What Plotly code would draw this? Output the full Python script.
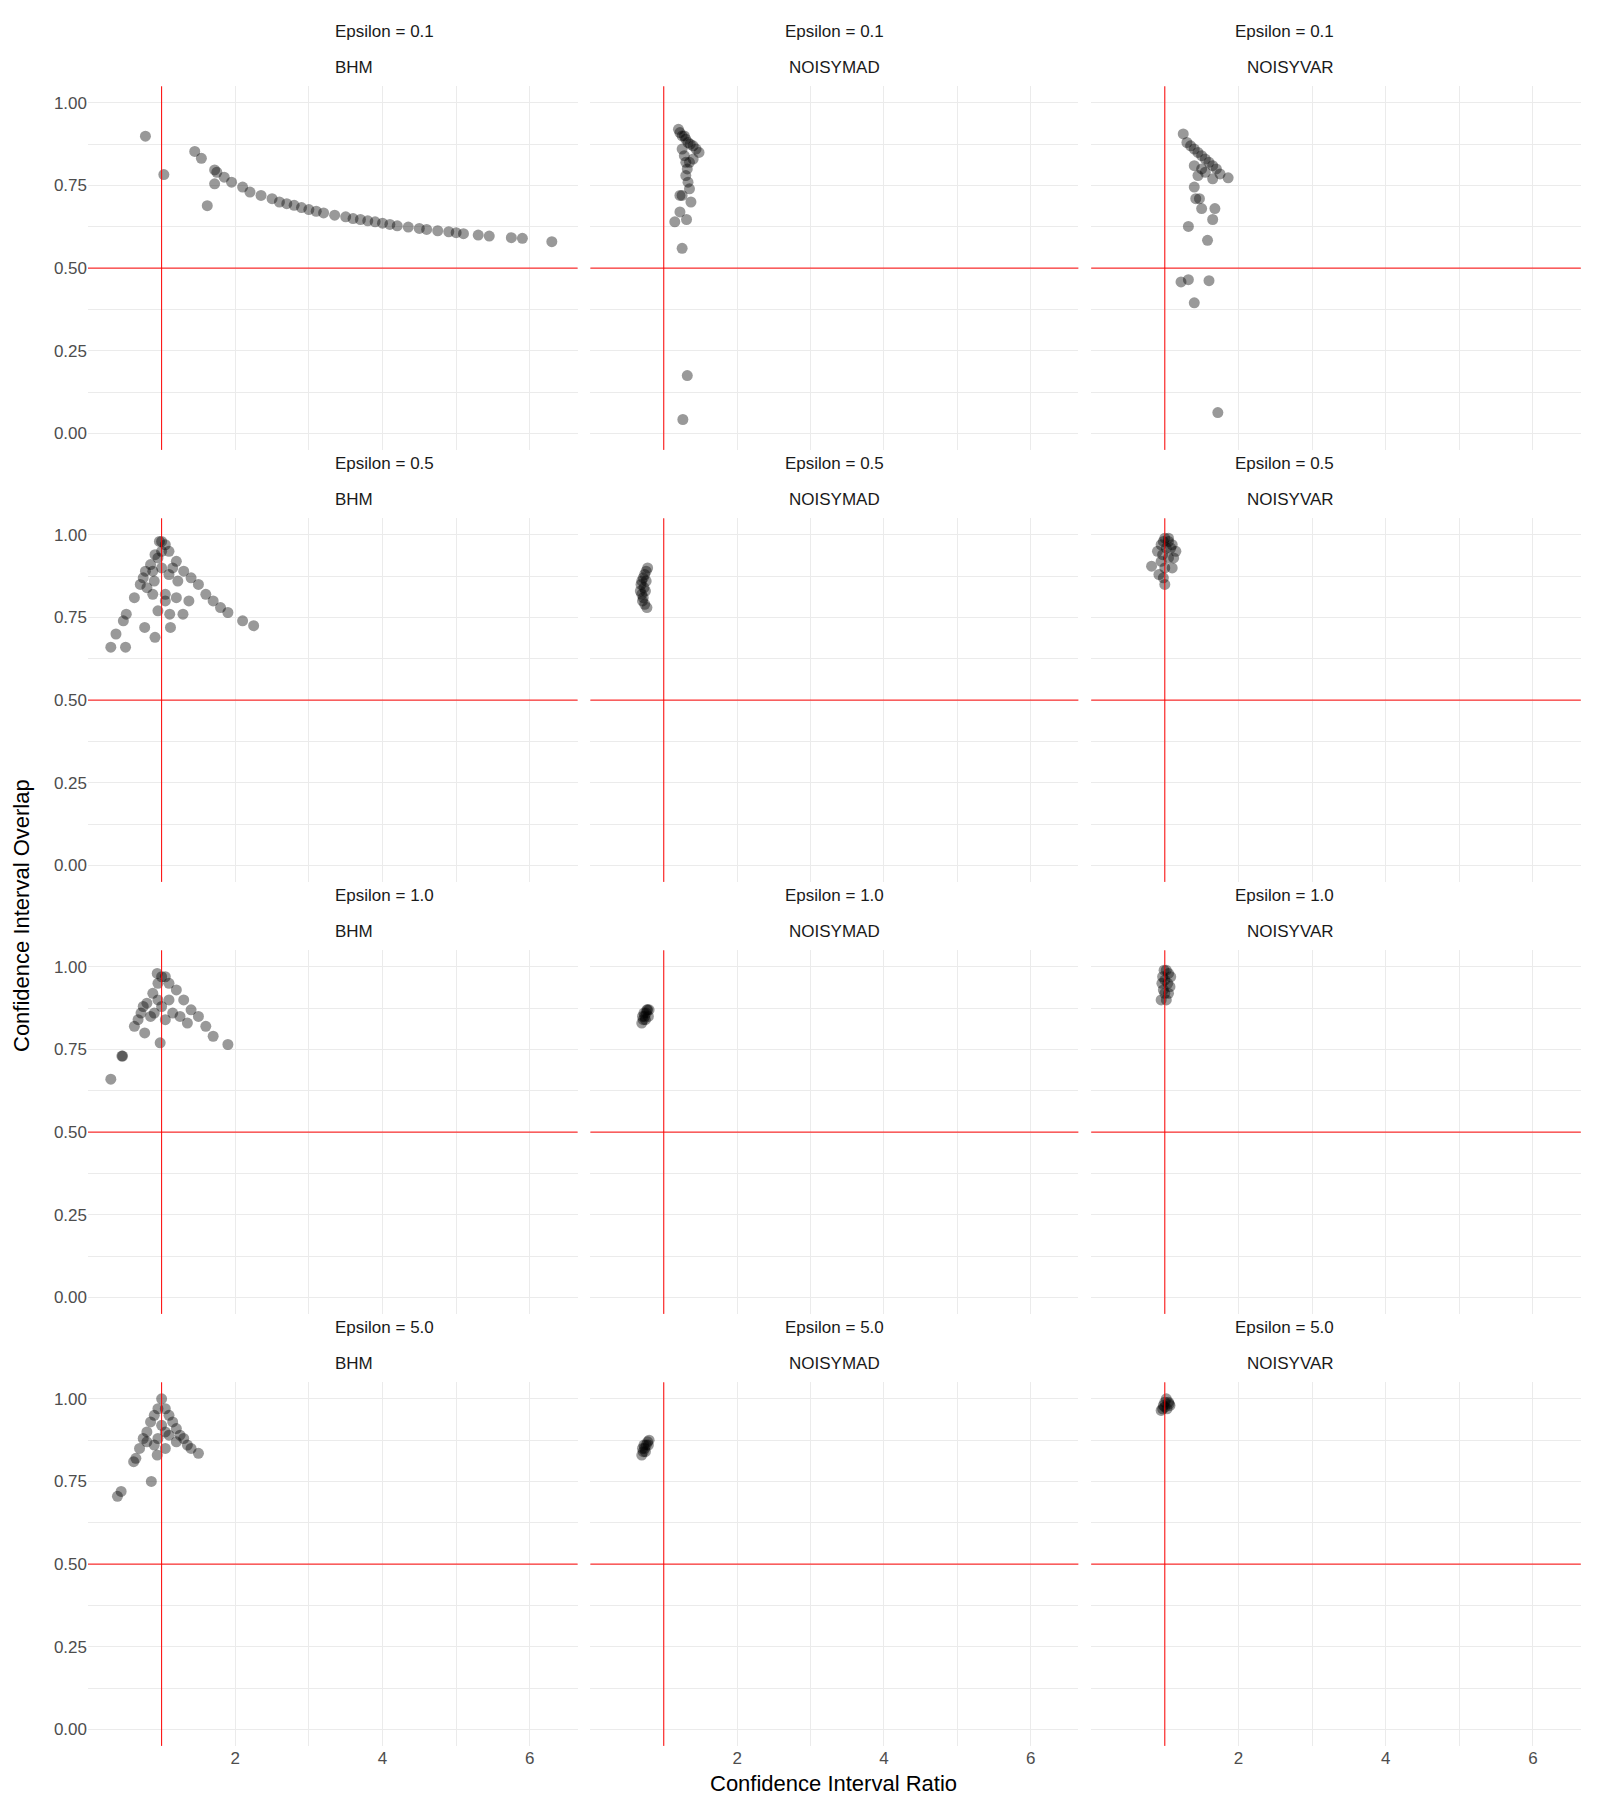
import plotly.graph_objects as go

epsilons = ["0.1", "0.5", "1.0", "5.0"]
methods = ["BHM", "NOISYMAD", "NOISYVAR"]

# (x, y) pairs per panel
bhm_01 = [(0.78,0.899),(1.03,0.783),(1.45,0.853),(1.54,0.832),(1.62,0.689),(1.72,0.755),(1.72,0.797),
          (1.75,0.79),(1.85,0.775),(1.95,0.76),(2.1,0.745),(2.2,0.73),(2.35,0.72),(2.5,0.71),(2.6,0.7),
          (2.7,0.695),(2.8,0.69),(2.9,0.683),(3.0,0.677),(3.1,0.672),(3.2,0.667),(3.35,0.66),(3.5,0.655),
          (3.6,0.65),(3.7,0.647),(3.8,0.643),(3.9,0.64),(4.0,0.636),(4.1,0.632),(4.2,0.628),(4.35,0.624),
          (4.5,0.62),(4.6,0.617),(4.75,0.613),(4.9,0.61),(5.0,0.607),(5.1,0.604),(5.3,0.6),(5.45,0.597),
          (5.75,0.592),(5.9,0.59),(6.3,0.58)]
mad_01 = [(1.2,0.92),(1.22,0.91),(1.25,0.9),(1.28,0.9),(1.3,0.89),(1.33,0.88),(1.36,0.875),(1.4,0.87),
          (1.44,0.86),(1.48,0.85),(1.25,0.86),(1.28,0.84),(1.3,0.82),(1.32,0.8),(1.3,0.78),(1.33,0.76),
          (1.35,0.74),(1.22,0.72),(1.25,0.72),(1.37,0.70),(1.22,0.67),(1.15,0.64),(1.31,0.647),
          (1.25,0.56),(1.32,0.175),(1.26,0.042),(1.4,0.83),(1.35,0.82)]
var_01 = [(1.25,0.906),(1.3,0.88),(1.35,0.87),(1.4,0.86),(1.45,0.85),(1.5,0.84),(1.55,0.83),(1.6,0.82),
          (1.65,0.81),(1.7,0.8),(1.75,0.785),(1.86,0.773),(1.4,0.81),(1.5,0.8),(1.45,0.78),(1.55,0.79),
          (1.65,0.77),(1.4,0.745),(1.42,0.71),(1.47,0.71),(1.5,0.68),(1.68,0.68),(1.65,0.647),
          (1.58,0.584),(1.32,0.626),(1.22,0.458),(1.32,0.465),(1.4,0.395),(1.6,0.462),(1.72,0.063)]
bhm_05 = [(0.31,0.66),(0.51,0.66),(0.38,0.70),(0.48,0.74),(0.52,0.76),(0.63,0.81),(0.71,0.85),(0.78,0.89),
          (0.85,0.91),(0.91,0.94),(0.97,0.98),(1.0,0.98),(1.05,0.97),(1.1,0.95),(1.2,0.92),(1.3,0.89),
          (1.4,0.87),(1.5,0.85),(1.6,0.82),(1.7,0.8),(1.8,0.78),(1.9,0.765),(2.1,0.74),(2.25,0.725),
          (0.77,0.72),(0.91,0.69),(1.12,0.72),(1.11,0.76),(1.29,0.76),(0.95,0.77),(1.05,0.82),(1.2,0.81),
          (0.88,0.82),(1.37,0.80),(0.88,0.89),(1.22,0.86),(0.95,0.93),(1.0,0.9),(1.1,0.88),(0.75,0.87),
          (0.9,0.86),(1.15,0.9),(1.0,0.95),(0.8,0.84),(1.05,0.8)]
mad_05 = [(0.68,0.83),(0.69,0.85),(0.7,0.86),(0.72,0.87),(0.74,0.88),(0.76,0.89),(0.78,0.9),(0.7,0.82),
          (0.71,0.8),(0.74,0.79),(0.77,0.78),(0.73,0.84),(0.76,0.86),(0.75,0.83),(0.72,0.81)]
var_05 = [(0.82,0.905),(0.9,0.95),(0.95,0.97),(1.0,0.99),(1.05,0.98),(1.1,0.97),(1.15,0.95),(0.95,0.92),
          (1.0,0.9),(1.05,0.93),(1.1,0.9),(0.98,0.87),(1.0,0.85),(0.92,0.88),(1.08,0.96),(0.97,0.94),
          (1.02,0.96),(1.12,0.93),(0.98,0.98),(1.05,0.99)]
bhm_10 = [(0.31,0.66),(0.46,0.73),(0.47,0.73),(0.63,0.82),(0.68,0.84),(0.77,0.80),(0.75,0.88),(0.85,0.85),
          (0.98,0.77),(0.94,0.98),(0.72,0.86),(0.8,0.89),(0.88,0.92),(0.95,0.95),(1.0,0.97),(1.05,0.97),
          (1.1,0.95),(1.2,0.93),(1.3,0.9),(1.4,0.87),(1.5,0.85),(1.6,0.82),(1.7,0.79),(1.9,0.765),
          (1.05,0.84),(1.15,0.86),(1.25,0.85),(0.95,0.9),(1.0,0.88),(0.9,0.86),(1.35,0.83),(1.1,0.9)]
mad_10 = [(0.7,0.83),(0.72,0.84),(0.74,0.85),(0.76,0.86),(0.78,0.87),(0.8,0.87),(0.71,0.85),(0.75,0.84),
          (0.79,0.85),(0.73,0.86),(0.77,0.87)]
var_10 = [(0.95,0.9),(0.98,0.93),(1.0,0.96),(1.02,0.99),(1.05,0.98),(1.08,0.97),(0.97,0.97),(1.0,0.92),
          (1.04,0.95),(1.07,0.94),(0.96,0.95),(1.02,0.9),(1.05,0.92),(0.99,0.99)]
bhm_50 = [(0.4,0.705),(0.45,0.72),(0.86,0.75),(0.62,0.81),(0.65,0.82),(0.7,0.85),(0.75,0.88),(0.8,0.9),
          (0.85,0.93),(0.9,0.95),(0.95,0.97),(1.0,1.0),(1.05,0.97),(1.1,0.95),(1.15,0.93),(1.2,0.91),
          (1.25,0.89),(1.3,0.88),(1.35,0.86),(1.4,0.85),(1.5,0.835),(0.94,0.83),(1.05,0.9),(0.95,0.88),
          (1.0,0.92),(1.1,0.89),(0.9,0.86),(1.05,0.85),(0.8,0.87),(1.2,0.87)]
mad_50 = [(0.7,0.83),(0.72,0.84),(0.74,0.85),(0.76,0.86),(0.78,0.87),(0.8,0.875),(0.71,0.85),(0.75,0.84),
          (0.79,0.86),(0.73,0.86)]
var_50 = [(0.95,0.965),(0.98,0.98),(1.0,0.99),(1.02,1.0),(1.05,0.99),(1.07,0.98),(0.97,0.97),(1.03,0.97),
          (1.0,0.975),(1.06,0.985)]

panels = [[bhm_01, mad_01, var_01], [bhm_05, mad_05, var_05],
          [bhm_10, mad_10, var_10], [bhm_50, mad_50, var_50]]

x_ticks = [2, 4, 6]
y_ticks = [0, 0.25, 0.5, 0.75, 1.0]
y_tick_text = ["0.00", "0.25", "0.50", "0.75", "1.00"]

fig = go.Figure()
xdom = [(0.050, 0.356), (0.364, 0.669), (0.677, 0.983)]
ytops = [0.9565, 0.7165, 0.4765, 0.2365]
ph = 0.202
grid = "#EBEBEB"
fnt = "Liberation Sans, Arial"
shapes, annots = [], []
for r in range(4):
    for c in range(3):
        i = r * 3 + c + 1
        sx = "" if i == 1 else str(i)
        pts = panels[r][c]
        fig.add_trace(go.Scatter(x=[p[0] for p in pts], y=[p[1] for p in pts], mode="markers",
                                 marker=dict(size=11, color="rgba(0,0,0,0.4)", line=dict(width=0)),
                                 xaxis="x" + sx, yaxis="y" + sx, showlegend=False))
        fig.layout["xaxis" + sx] = dict(domain=list(xdom[c]), range=[0.0, 6.65], tickvals=x_ticks,
            showticklabels=(r == 3), gridcolor=grid, gridwidth=1.3, zeroline=False, showline=False,
            minor=dict(tickvals=[1, 3, 5], showgrid=True, gridcolor=grid, gridwidth=0.7),
            anchor="y" + sx, tickfont=dict(size=17, color="#4D4D4D"), ticks="")
        fig.layout["yaxis" + sx] = dict(domain=[ytops[r] - ph, ytops[r]], range=[-0.05, 1.05],
            tickvals=y_ticks, ticktext=y_tick_text, showticklabels=(c == 0), gridcolor=grid,
            gridwidth=1.3, zeroline=False, showline=False,
            minor=dict(tickvals=[0.125, 0.375, 0.625, 0.875], showgrid=True, gridcolor=grid, gridwidth=0.7),
            anchor="x" + sx, tickfont=dict(size=17, color="#4D4D4D"), ticks="")
        shapes.append(dict(type="line", xref="x" + sx, yref="y" + sx + " domain", x0=1, x1=1, y0=0, y1=1,
                           line=dict(color="red", width=1)))
        shapes.append(dict(type="line", xref="x" + sx + " domain", yref="y" + sx, x0=0, x1=1, y0=0.5, y1=0.5,
                           line=dict(color="red", width=1)))
        xm = (xdom[c][0] + xdom[c][1]) / 2
        annots.append(dict(text="Epsilon = " + epsilons[r], x=xm, y=ytops[r] + 0.0305, xref="paper", yref="paper",
                           yanchor="middle", showarrow=False, font=dict(size=17, color="#1A1A1A")))
        annots.append(dict(text=methods[c], x=xm, y=ytops[r] + 0.0102, xref="paper", yref="paper",
                           yanchor="middle", showarrow=False, font=dict(size=17, color="#1A1A1A")))

annots.append(dict(text="Confidence Interval Ratio", x=0.516, y=0.0135, xref="paper", yref="paper",
                   yanchor="middle", showarrow=False, font=dict(size=22, color="black")))
annots.append(dict(text="Confidence Interval Overlap", x=0.008, y=0.496, xref="paper", yref="paper",
                   xanchor="center", yanchor="middle", showarrow=False, textangle=-90,
                   font=dict(size=22, color="black")))

fig.update_layout(width=1600, height=1800, margin=dict(l=0, r=0, t=0, b=0),
                  plot_bgcolor="white", paper_bgcolor="white", shapes=shapes, annotations=annots,
                  font=dict(family=fnt))
fig.write_html("out.html")
